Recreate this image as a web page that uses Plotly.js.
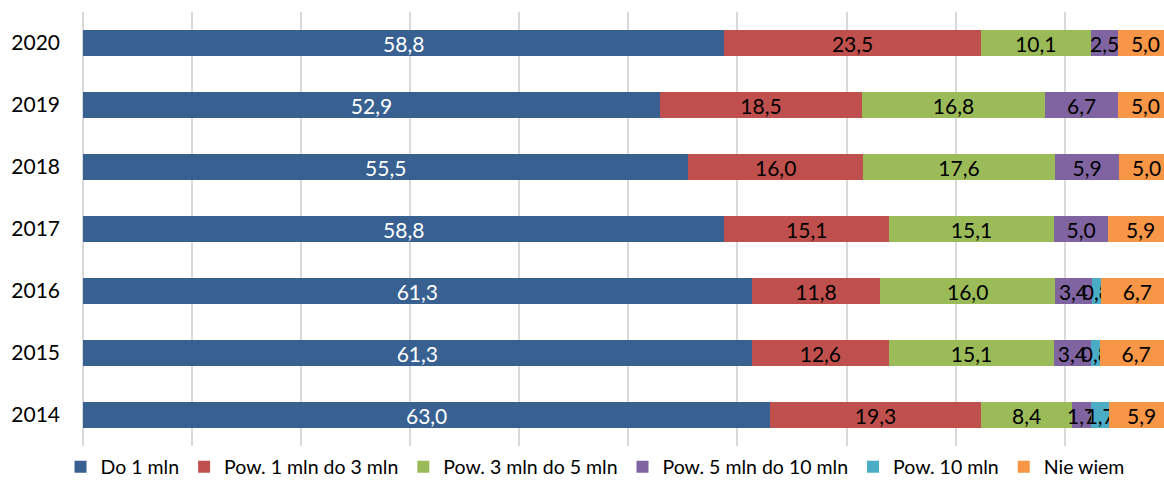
<!DOCTYPE html>
<html><head><meta charset="utf-8">
<script src="https://cdn.plot.ly/plotly-3.0.1.min.js"></script>
<style>html,body{margin:0;padding:0;background:#fff}#c{width:1164px;height:480px}</style>
</head><body><div id="c"></div>
<script>
const years = ['2020','2019','2018','2017','2016','2015','2014'];
const seriesNames = ['Do 1 mln','Pow. 1 mln do 3 mln','Pow. 3 mln do 5 mln','Pow. 5 mln do 10 mln','Pow. 10 mln','Nie wiem'];
const do1 = [58.8, 52.9, 55.5, 58.8, 61.3, 61.3, 63.0];
const pow1do3 = [23.5, 18.5, 16.0, 15.1, 11.8, 12.6, 19.3];
const pow3do5 = [10.1, 16.8, 17.6, 15.1, 16.0, 15.1, 8.4];
const pow5do10 = [2.5, 6.7, 5.9, 5.0, 3.4, 3.4, 1.7];
const pow10 = [0, 0, 0, 0, 0.8, 0.8, 1.7];
const nieWiem = [5.0, 5.0, 5.0, 5.9, 6.7, 6.7, 5.9];

const values = [do1, pow1do3, pow3do5, pow5do10, pow10, nieWiem];
const colors = ['#386192','#C0504D','#9BBB59','#8064A2','#4BACC6','#F79646'];
const textColors = ['#ffffff','#000000','#000000','#000000','#000000','#000000'];
const FONT = 'Lato, "Open Sans", sans-serif';

const fmt = v => v > 0 ? v.toFixed(1).replace('.', ',') : '';

const traces = values.map((vals, i) => ({
  type: 'bar',
  orientation: 'h',
  name: seriesNames[i],
  y: years,
  x: vals,
  text: vals.map(fmt),
  textposition: 'inside',
  insidetextanchor: 'middle',
  textangle: 0,
  constraintext: 'none',
  insidetextfont: {family: FONT, size: 21, color: textColors[i]},
  marker: {color: colors[i], line: {width: 0}},
  hoverinfo: 'x+name',
  cliponaxis: true
}));

const layout = {
  width: 1164, height: 480,
  margin: {l: 83, r: 0, t: 12, b: 34},
  barmode: 'stack',
  bargap: 0.59,
  paper_bgcolor: '#fff', plot_bgcolor: '#fff',
  font: {family: FONT, size: 21, color: '#000'},
  separators: ', ',
  xaxis: {
    range: [0, 99.1], dtick: 10, tick0: 0,
    showgrid: true, gridcolor: '#d9d9d9', gridwidth: 2,
    zeroline: true, zerolinecolor: '#d9d9d9', zerolinewidth: 2,
    showticklabels: false, showline: false, ticks: '',
    fixedrange: true
  },
  yaxis: {
    type: 'category', autorange: 'reversed',
    showgrid: false, zeroline: false, showline: false,
    ticks: '', ticklen: 0, ticklabelstandoff: 22,
    tickfont: {family: FONT, size: 21, color: '#000'},
    fixedrange: true
  },
  legend: {
    orientation: 'h', x: 0.052, xanchor: 'left', xref: 'container',
    y: 0.027, yanchor: 'middle', yref: 'container',
    font: {family: FONT, size: 19.5, color: '#000'},
    traceorder: 'normal', itemwidth: 30, itemclick: false,
    tracegroupgap: 0, borderwidth: 0
  },
  showlegend: true
};

Plotly.newPlot('c', traces, layout, {displayModeBar: false, staticPlot: true});
</script></body></html>
